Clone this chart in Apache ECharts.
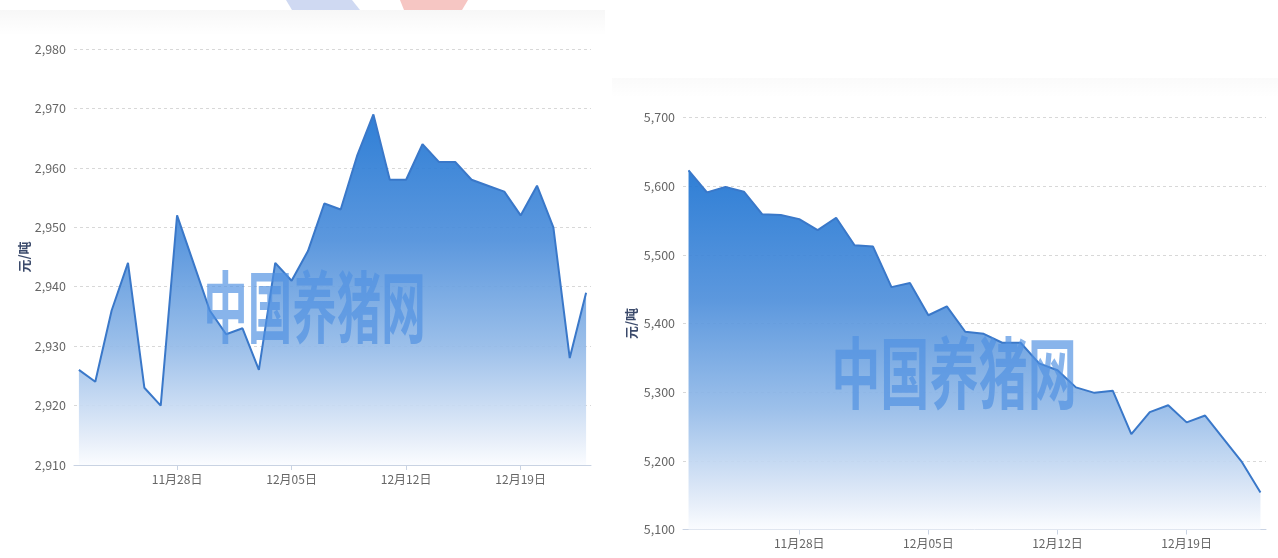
<!DOCTYPE html>
<html>
<head>
<meta charset="utf-8">
<script src="https://cdn.jsdelivr.net/npm/echarts@6/dist/echarts.min.js"></script>
<style>
html,body{margin:0;padding:0;background:#fff;}
#c{width:1278px;height:558px;}
</style>
</head>
<body>
<div id="c"></div>
<script>
const dates = ['11月22日','11月23日','11月24日','11月25日','11月26日','11月27日','11月28日','11月29日','11月30日',
  '12月01日','12月02日','12月03日','12月04日','12月05日','12月06日','12月07日','12月08日','12月09日','12月10日',
  '12月11日','12月12日','12月13日','12月14日','12月15日','12月16日','12月17日','12月18日','12月19日','12月20日',
  '12月21日','12月22日','12月23日'];
const tickIdx = [6, 13, 20, 27];
const leftValues = [2926, 2924, 2936, 2944, 2923, 2920, 2952, 2944, 2936, 2932, 2933, 2926, 2944, 2941, 2946, 2954,
  2953, 2962, 2969, 2958, 2958, 2964, 2961, 2961, 2958, 2957, 2956, 2952, 2957, 2950, 2928, 2939];
const rightValues = [5623, 5591, 5599, 5592, 5559, 5558, 5552, 5536, 5554, 5514, 5512, 5453, 5459, 5412, 5425, 5388,
  5385, 5372, 5372, 5342, 5332, 5307, 5299, 5302, 5239, 5271, 5281, 5256, 5266, 5232, 5198, 5154];
const unitName = '元/吨';
const watermark = '中国养猪网';

const FONT = '"Liberation Sans Narrow", "Noto Sans CJK SC", sans-serif';

function xAxisCfg(gi) {
  return {
    type: 'value', gridIndex: gi, min: -0.3, max: 31.3,
    splitLine: { show: false },
    axisLine: { show: true, lineStyle: { color: '#c9d3e3', width: 1 } },
    axisTick: { show: true, customValues: tickIdx, length: 5, lineStyle: { color: '#c9d3e3' } },
    axisLabel: { customValues: tickIdx, formatter: v => dates[Math.round(v)], color: '#666', fontSize: 12,
      fontFamily: FONT, margin: 8 }
  };
}
function yAxisCfg(gi, min, max, interval, gap) {
  return {
    type: 'value', gridIndex: gi, min, max, interval,
    name: unitName, nameLocation: 'middle', nameRotate: 90, nameGap: gap,
    nameTextStyle: { color: '#3b4a6b', fontSize: 13, fontWeight: 'bold', fontFamily: '"Noto Sans CJK SC", sans-serif' },
    axisLine: { show: false }, axisTick: { show: false },
    axisLabel: { color: '#666', fontSize: 12.5, fontFamily: FONT, margin: 8,
      formatter: v => v.toLocaleString('en-US') },
    splitLine: { show: true, lineStyle: { color: '#d8d8d8', type: [3, 3] } }
  };
}
function areaGrad() {
  return new echarts.graphic.LinearGradient(0, 0, 0, 1, [
    { offset: 0, color: 'rgba(30,116,210,0.92)' },
    { offset: 0.36, color: 'rgba(78,143,219,0.92)' },
    { offset: 0.66, color: 'rgba(147,186,232,0.92)' },
    { offset: 0.92, color: 'rgba(226,235,248,0.92)' },
    { offset: 1, color: 'rgba(250,252,255,0.92)' }
  ]);
}
function seriesCfg(gi, vals) {
  return {
    type: 'line', xAxisIndex: gi, yAxisIndex: gi,
    data: vals.map((v, i) => [i, v]),
    symbol: 'none', smooth: false,
    lineStyle: { color: '#3a78c9', width: 2 },
    areaStyle: { color: areaGrad(), opacity: 1 },
    z: 2
  };
}

const chart = echarts.init(document.getElementById('c'));
chart.setOption({
  animation: false,
  backgroundColor: '#fff',
  grid: [
    { left: 74, top: 49, width: 517, height: 416 },
    { left: 683, top: 117.5, width: 583, height: 412 }
  ],
  xAxis: [xAxisCfg(0), xAxisCfg(1)],
  yAxis: [yAxisCfg(0, 2910, 2980, 10, 42), yAxisCfg(1, 5100, 5700, 100, 45)],
  series: [seriesCfg(0, leftValues), seriesCfg(1, rightValues)],
  graphic: [
    { type: 'polygon', z: 0, silent: true, shape: { points: [[286,0],[352,0],[360,10],[292,10]] },
      style: { fill: '#cfd9f2' } },
    { type: 'polygon', z: 0, silent: true, shape: { points: [[400,0],[468,0],[462,10],[404,10]] },
      style: { fill: '#f6c6c3' } },
    { type: 'rect', z: 0, silent: true, shape: { x: 0, y: 10, width: 605, height: 26 },
      style: { fill: new echarts.graphic.LinearGradient(0, 0, 0, 1, [
        { offset: 0, color: 'rgba(0,0,0,0.03)' }, { offset: 1, color: 'rgba(0,0,0,0)' }]) } },
    { type: 'rect', z: 0, silent: true, shape: { x: 612, y: 78, width: 666, height: 20 },
      style: { fill: new echarts.graphic.LinearGradient(0, 0, 0, 1, [
        { offset: 0, color: 'rgba(0,0,0,0.02)' }, { offset: 1, color: 'rgba(0,0,0,0)' }]) } },
    { type: 'text', z: 10, silent: true, x: 314.5, y: 307, scaleX: 0.57,
      style: { text: watermark, fill: 'rgba(80,145,225,0.68)', font: 'bold 78px "Noto Sans CJK SC", sans-serif',
        align: 'center', verticalAlign: 'middle' } },
    { type: 'text', z: 10, silent: true, x: 954, y: 373, scaleX: 0.63,
      style: { text: watermark, fill: 'rgba(80,145,225,0.68)', font: 'bold 78px "Noto Sans CJK SC", sans-serif',
        align: 'center', verticalAlign: 'middle' } }
  ]
});
</script>
</body>
</html>
